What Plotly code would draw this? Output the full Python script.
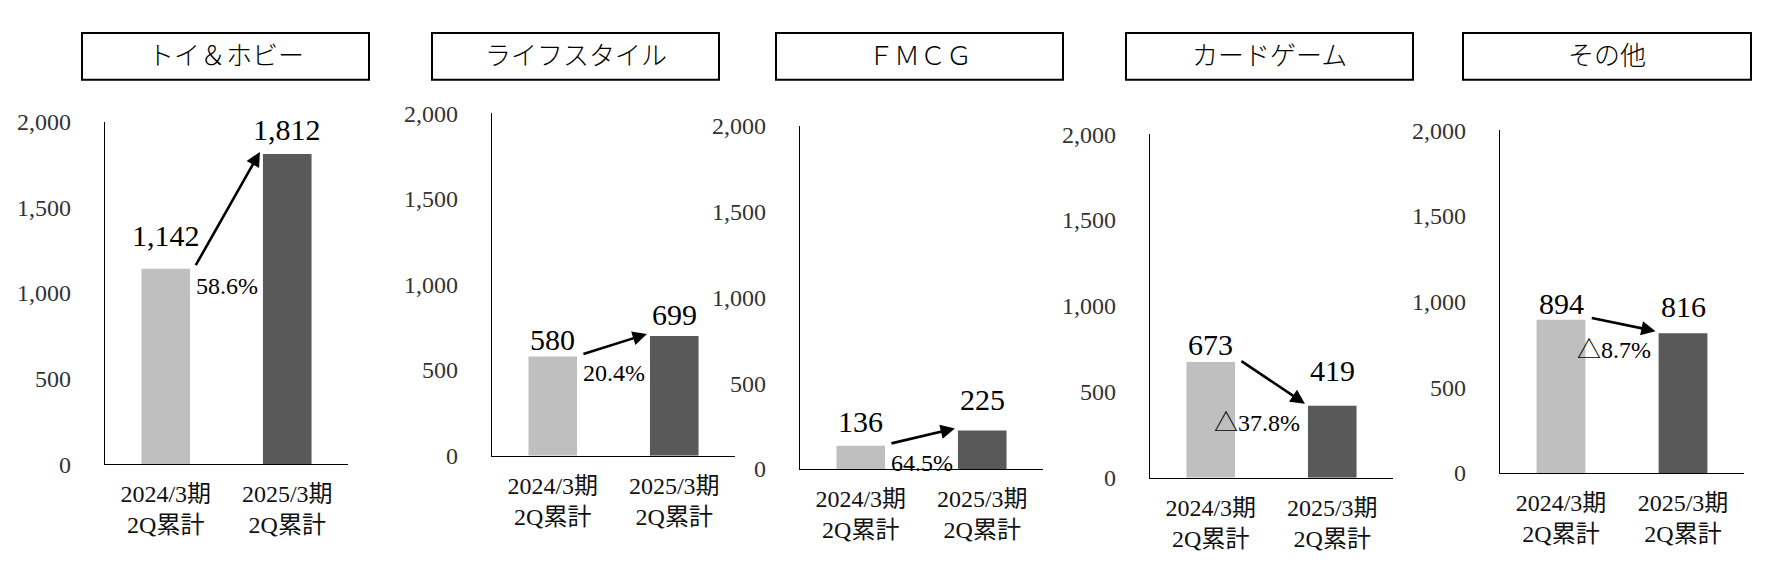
import plotly.graph_objects as go

# ---- data ----
segments = ["トイ＆ホビー", "ライフスタイル", "ＦＭＣＧ", "カードゲーム", "その他"]
periods = ["2024/3期<br>2Q累計", "2025/3期<br>2Q累計"]
prev_values = [1142, 580, 136, 673, 894]
curr_values = [1812, 699, 225, 419, 816]
growth_labels = ["58.6%", "20.4%", "64.5%", "△37.8%", "△8.7%"]
y_ticks = [0, 500, 1000, 1500, 2000]

# ---- layout geometry (pixels in a 1770x567 page) ----
W, H = 1770, 567
plot_px = [(105, 348, 114, 473), (492, 735, 105, 464), (800, 1043, 118, 478),
           (1150, 1393, 127, 487), (1500, 1744, 123, 482)]
title_px = [(82, 369), (432, 719), (776, 1063), (1126, 1413), (1463, 1751)]
TITLE_TOP, TITLE_BOT = 21, 70
# pixel lift of each value label centre above its bar top (prev, curr)
label_lift = [(33, 24), (17, 22), (24, 31), (18, 35), (16, 27)]

FONT = "Liberation Serif, Noto Sans CJK JP, serif"
C_PREV, C_CURR = "#BFBFBF", "#595959"
BW = 0.4

fig = go.Figure()
layout = dict(width=W, height=H, margin=dict(l=0, r=0, t=0, b=0), autosize=False,
              paper_bgcolor="white", plot_bgcolor="white", showlegend=False,
              font=dict(family=FONT, color="#000"))
annotations, shapes = [], []

for i, seg in enumerate(segments):
    n = "" if i == 0 else str(i + 1)
    xa, ya = "x" + n, "y" + n
    x0, x1, yt, yb = plot_px[i]
    vals = [prev_values[i], curr_values[i]]
    fig.add_trace(go.Bar(x=[0, 1], y=vals, width=BW, marker=dict(color=[C_PREV, C_CURR], line=dict(width=0)),
                         xaxis=xa, yaxis=ya, hoverinfo="skip"))
    layout["xaxis" + n] = dict(domain=[x0 / W, x1 / W], anchor=ya, range=[-0.5, 1.5],
                               tickmode="array", tickvals=[0, 1], ticktext=periods,
                               showline=True, linecolor="#000", linewidth=1.3, ticks="",
                               showgrid=False, zeroline=False, ticklabelstandoff=8,
                               tickfont=dict(size=24, family=FONT, color="#111"), fixedrange=True)
    layout["yaxis" + n] = dict(domain=[1 - yb / H, 1 - yt / H], anchor=xa, range=[0, 2000],
                               tickmode="array", tickvals=y_ticks,
                               ticktext=[f"{v:,}" for v in y_ticks],
                               showline=True, linecolor="#000", linewidth=1.3, ticks="",
                               showgrid=False, zeroline=False, ticklabelstandoff=28,
                               tickfont=dict(size=24, family=FONT, color="#333"), fixedrange=True)
    # value labels
    for k, v in enumerate(vals):
        annotations.append(dict(x=k, y=v, xref=xa, yref=ya, text=f"{v:,}", showarrow=False,
                                yanchor="middle", yshift=label_lift[i][k],
                                font=dict(size=30, family=FONT, color="#000")))
    # arrow from previous bar to current bar
    annotations.append(dict(x=1 - BW / 2 - 0.025, y=vals[1], ax=BW / 2 + 0.04, ay=vals[0],
                            xref=xa, yref=ya, axref=xa, ayref=ya, text="", showarrow=True,
                            arrowhead=2, arrowsize=1.1, arrowwidth=2.6, arrowcolor="#000", yshift=2))
    # growth label
    if vals[1] >= vals[0]:
        annotations.append(dict(x=BW / 2, y=vals[0], xref=xa, yref=ya, text=growth_labels[i],
                                showarrow=False, xanchor="left", yanchor="middle", xshift=4, yshift=-17,
                                font=dict(size=24, family=FONT, color="#000")))
    else:
        annotations.append(dict(x=1 - BW / 2, y=vals[1], xref=xa, yref=ya, text=growth_labels[i],
                                showarrow=False, xanchor="right", yanchor="middle", xshift=-6, yshift=-17,
                                font=dict(size=24, family=FONT, color="#000")))
    # title box
    tx0, tx1 = title_px[i]
    shapes.append(dict(type="rect", xref="paper", yref="paper", x0=tx0 / W, x1=tx1 / W,
                       y0=1 - TITLE_BOT / H, y1=1 - TITLE_TOP / H, line=dict(color="#000", width=2),
                       fillcolor="white"))
    annotations.append(dict(x=(tx0 + tx1) / 2 / W, y=1 - (TITLE_TOP + TITLE_BOT) / 2 / H,
                            xref="paper", yref="paper", text=seg, showarrow=False,
                            xanchor="center", yanchor="middle",
                            font=dict(size=26, family=FONT, color="#000", weight=300)))

layout["annotations"] = annotations
layout["shapes"] = shapes
fig.update_layout(**layout)
fig.write_html("out.html", config={"displayModeBar": False},
               post_script="document.body.style.margin='0';document.body.style.overflow='hidden';")
